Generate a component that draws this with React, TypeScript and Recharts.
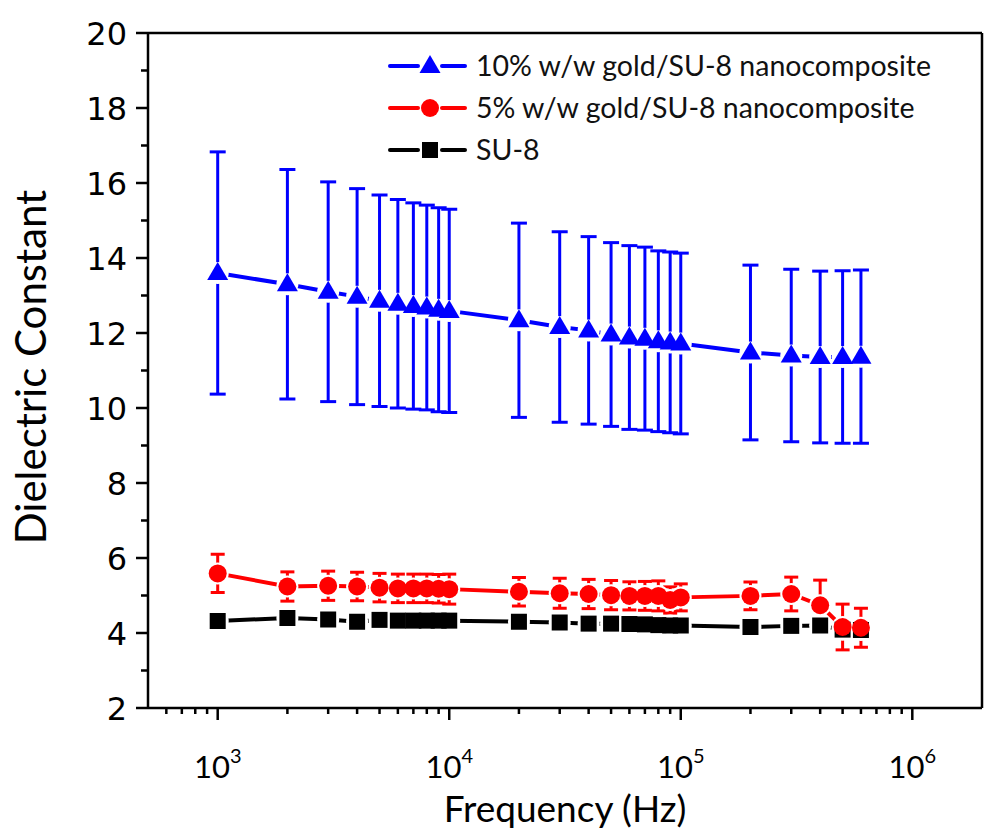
import React from "react";
import { ComposedChart, Line, XAxis, YAxis, ErrorBar, Legend, Label } from "recharts";

// frequency sweep (Hz)
const freqHz = [
  1e3, 2e3, 3e3, 4e3, 5e3, 6e3, 7e3, 8e3, 9e3, 1e4,
  2e4, 3e4, 4e4, 5e4, 6e4, 7e4, 8e4, 9e4, 1e5,
  2e5, 3e5, 4e5, 5e5, 6e5,
];

// 10% w/w gold/SU-8
const gold10 = [
  13.6, 13.3, 13.1, 12.97, 12.86, 12.78, 12.72, 12.68, 12.62, 12.59,
  12.34, 12.16, 12.07, 11.96, 11.88, 11.85, 11.78, 11.75, 11.72,
  11.48, 11.4, 11.36, 11.36, 11.37,
];
const gold10Err = [
  3.23, 3.06, 2.93, 2.88, 2.82, 2.78, 2.75, 2.73, 2.72, 2.71,
  2.59, 2.54, 2.5, 2.45, 2.45, 2.44, 2.41, 2.41, 2.41,
  2.33, 2.3, 2.29, 2.3, 2.31,
];

// 5% w/w gold/SU-8
const gold5 = [
  5.59, 5.24, 5.26, 5.24, 5.21, 5.19, 5.19, 5.19, 5.18, 5.17,
  5.1, 5.06, 5.04, 5.01, 4.99, 4.99, 4.99, 4.88, 4.95,
  4.99, 5.04, 4.74, 4.16, 4.14,
];
const gold5Err = [
  0.51, 0.39, 0.39, 0.38, 0.38, 0.38, 0.38, 0.38, 0.38, 0.4,
  0.38, 0.4, 0.39, 0.39, 0.375, 0.385, 0.4, 0.35, 0.36,
  0.37, 0.45, 0.67, 0.61, 0.52,
];

// plain SU-8
const su8 = [
  4.32, 4.4, 4.36, 4.3, 4.35, 4.33, 4.33, 4.33, 4.33, 4.33,
  4.3, 4.28, 4.25, 4.25, 4.24, 4.23, 4.21, 4.2, 4.2,
  4.16, 4.19, 4.2, 4.09, 4.08,
];

const xTicks = [
  600, 700, 800, 900,
  1e3, 2e3, 3e3, 4e3, 5e3, 6e3, 7e3, 8e3, 9e3,
  1e4, 2e4, 3e4, 4e4, 5e4, 6e4, 7e4, 8e4, 9e4,
  1e5, 2e5, 3e5, 4e5, 5e5, 6e5, 7e5, 8e5, 9e5,
  1e6,
];
const yTicks = [2, 3, 4, 5, 6, 7, 8, 9, 10, 11, 12, 13, 14, 15, 16, 17, 18, 19, 20];

const legendLabels = [
  "10% w/w gold/SU-8 nanocomposite",
  "5% w/w gold/SU-8 nanocomposite",
  "SU-8",
];

const BLUE = "#0000ff";
const RED = "#ff0000";
const BLACK = "#000000";
const TITLE_FONT = "Lato, 'Open Sans', sans-serif";

const data = freqHz.map((f, i) => ({
  f,
  g10: gold10[i],
  g10e: gold10Err[i],
  g5: gold5[i],
  g5e: gold5Err[i],
  su8: su8[i],
}));

function isDecade(v: number) {
  const l = Math.log10(v);
  return Math.abs(l - Math.round(l)) < 1e-6;
}

function XTick({ x, y, payload }: any) {
  const v = payload.value;
  const major = isDecade(v);
  return (
    <g>
      <line x1={x} x2={x} y1={y} y2={y + (major ? 12 : 6)} stroke={BLACK} strokeWidth={2.5} />
      {major && (
        <text x={x} y={y + 70} textAnchor="middle" fontFamily={TITLE_FONT} fontSize={31} fill="#000">
          10
          <tspan dy={-15} fontSize={20}>
            {Math.round(Math.log10(v))}
          </tspan>
        </text>
      )}
    </g>
  );
}

function YTick({ x, y, payload }: any) {
  const major = payload.value % 2 === 0;
  return (
    <g>
      <line x1={x - (major ? 12 : 7)} x2={x} y1={y} y2={y} stroke={BLACK} strokeWidth={2.5} />
      {major && (
        <text x={x - 21} y={y + 11.5} textAnchor="end" fontFamily="'DejaVu Sans', Verdana, sans-serif" fontSize={32} fill="#000">
          {payload.value}
        </text>
      )}
    </g>
  );
}

function YTickRight({ x, y, payload }: any) {
  const major = payload.value % 2 === 0;
  return <line x1={x - (major ? 12 : 6)} x2={x} y1={y} y2={y} stroke={BLACK} strokeWidth={2.5} />;
}

// white disc under each marker so the line stops short of it
const gapDot = (props: any) => (
  <circle key={`gap-${props.index}`} cx={props.cx} cy={props.cy} r={11} fill="#fff" />
);

function triangle(cx: number, cy: number, color: string, key?: string) {
  return (
    <polygon
      key={key}
      points={`${cx},${cy - 11} ${cx - 10.5},${cy + 7} ${cx + 10.5},${cy + 7}`}
      fill={color}
    />
  );
}
function circle(cx: number, cy: number, color: string, key?: string) {
  return <circle key={key} cx={cx} cy={cy} r={9} fill={color} />;
}
function square(cx: number, cy: number, color: string, key?: string) {
  return <rect key={key} x={cx - 8} y={cy - 8} width={16} height={16} fill={color} />;
}

const triDot = (p: any) => triangle(p.cx, p.cy, BLUE, `t-${p.index}`);
const circDot = (p: any) => circle(p.cx, p.cy, RED, `c-${p.index}`);
const sqDot = (p: any) => square(p.cx, p.cy, BLACK, `s-${p.index}`);

function LegendBox() {
  const rows = [
    { color: BLUE, marker: triangle },
    { color: RED, marker: circle },
    { color: BLACK, marker: square },
  ];
  return (
    <svg width={600} height={140}>
      {rows.map((r, i) => {
        const cy = 26 + i * 42;
        return (
          <g key={i}>
            <line x1={10} x2={38} y1={cy} y2={cy} stroke={r.color} strokeWidth={4} strokeLinecap="round" />
            {r.marker(50, cy, r.color)}
            <line x1={62} x2={85} y1={cy} y2={cy} stroke={r.color} strokeWidth={4} strokeLinecap="round" />
            <text x={96} y={cy + 10} fontFamily={TITLE_FONT} fontSize={28.5} fill="#111">
              {legendLabels[i]}
            </text>
          </g>
        );
      })}
    </svg>
  );
}

export default function App() {
  return (
    <div style={{ position: "absolute", left: 0, top: 0, width: 984, height: 829, background: "#fff" }}>
      <ComposedChart width={984} height={829} data={data} margin={{ top: 32, right: 1, bottom: 0, left: 0 }}>
        <XAxis
          dataKey="f"
          type="number"
          scale="log"
          domain={[500, 2000000]}
          allowDataOverflow
          ticks={xTicks}
          interval={0}
          tickSize={0}
          tickMargin={0}
          tickLine={false}
          tick={<XTick />}
          axisLine={{ stroke: BLACK, strokeWidth: 2.5 }}
          height={121}
        >
          <Label
            content={({ viewBox }: any) => (
              <text
                x={viewBox.x + viewBox.width / 2}
                y={viewBox.y + 114}
                textAnchor="middle"
                fontFamily={TITLE_FONT}
                fontSize={37}
                fill="#000"
              >
                Frequency (Hz)
              </text>
            )}
          />
        </XAxis>
        <XAxis
          xAxisId="top"
          orientation="top"
          type="number"
          scale="log"
          domain={[500, 2000000]}
          allowDataOverflow
          tick={false}
          tickLine={false}
          height={1}
          axisLine={{ stroke: BLACK, strokeWidth: 2.5 }}
        />
        <YAxis
          yAxisId="left"
          type="number"
          domain={[2, 20]}
          ticks={yTicks}
          interval={0}
          tickSize={0}
          tickMargin={0}
          tickLine={false}
          tick={<YTick />}
          axisLine={{ stroke: BLACK, strokeWidth: 2.5 }}
          width={148}
        >
          <Label
            content={() => (
              <text
                x={46}
                y={367}
                textAnchor="middle"
                transform="rotate(-90, 46, 367)"
                fontFamily={TITLE_FONT}
                fontSize={42}
                fill="#000"
              >
                Dielectric Constant
              </text>
            )}
          />
        </YAxis>
        <YAxis
          yAxisId="right"
          orientation="right"
          type="number"
          domain={[2, 20]}
          ticks={yTicks}
          interval={0}
          tickSize={0}
          tickMargin={0}
          tickLine={false}
          tick={<YTickRight />}
          axisLine={{ stroke: BLACK, strokeWidth: 2.5 }}
          width={1}
        />

        {/* connecting lines, broken around markers */}
        <Line yAxisId="left" dataKey="g10" stroke={BLUE} strokeWidth={4} dot={gapDot} activeDot={false} legendType="none" isAnimationActive={false} />
        <Line yAxisId="left" dataKey="g5" stroke={RED} strokeWidth={4} dot={gapDot} activeDot={false} legendType="none" isAnimationActive={false} />
        <Line yAxisId="left" dataKey="su8" stroke={BLACK} strokeWidth={4} dot={gapDot} activeDot={false} legendType="none" isAnimationActive={false} />

        {/* markers + error bars */}
        <Line yAxisId="left" dataKey="su8" stroke="none" dot={sqDot} activeDot={false} legendType="none" isAnimationActive={false} />
        <Line yAxisId="left" dataKey="g5" stroke="none" dot={circDot} activeDot={false} legendType="none" isAnimationActive={false}>
          <ErrorBar dataKey="g5e" direction="y" width={7} strokeWidth={3} stroke={RED} />
        </Line>
        <Line yAxisId="left" dataKey="g10" stroke="none" dot={triDot} activeDot={false} legendType="none" isAnimationActive={false}>
          <ErrorBar dataKey="g10e" direction="y" width={8} strokeWidth={3} stroke={BLUE} />
        </Line>

        <Legend
          layout="vertical"
          align="center"
          verticalAlign="middle"
          wrapperStyle={{ left: 380, top: 40, width: 600, height: 140 }}
          content={() => <LegendBox />}
        />
      </ComposedChart>
    </div>
  );
}
